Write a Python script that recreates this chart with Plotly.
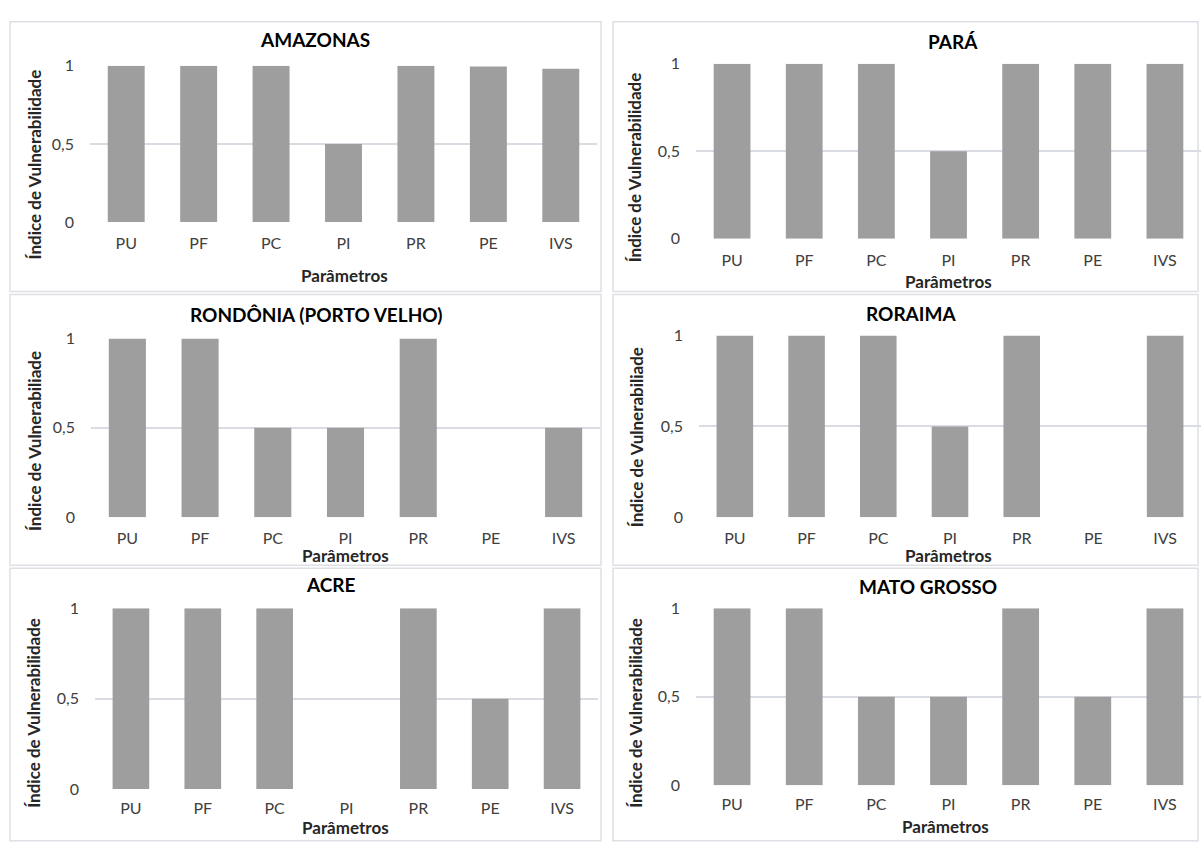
import plotly.graph_objects as go

categories = ["PU", "PF", "PC", "PI", "PR", "PE", "IVS"]

amazonas = [1, 1, 1, 0.5, 1, 0.995, 0.98]
para = [1, 1, 1, 0.5, 1, 1, 1]
rondonia = [1, 1, 0.5, 0.5, 1, 0, 0.5]
roraima = [1, 1, 1, 0.5, 1, 0, 1]
acre = [1, 1, 1, 0, 1, 0.5, 1]
mato_grosso = [1, 1, 0.5, 0.5, 1, 0.5, 1]

titles = ["AMAZONAS", "PARÁ", "RONDÔNIA (PORTO VELHO)", "RORAIMA", "ACRE", "MATO GROSSO"]
y_titles = ["Índice de Vulnerabilidade", "Índice de Vulnerabilidade",
            "Índice de Vulnerabiliade", "Índice de Vulnerabiliade",
            "Índice de Vulnerabilidade", "Índice de Vulnerabilidade"]
x_title = "Parâmetros"
y_tickvals = [0, 0.5, 1]
y_ticktext = ["0", "0,5", "1"]

series = [amazonas, para, rondonia, roraima, acre, mato_grosso]

W, H = 1203, 843
FONT = "Lato, Carlito, Calibri, sans-serif"
BAR = "#9e9e9e"
GRID = "#d9dce2"
TICK = "#404040"

def px_x(v):
    return v / W

def px_y(v):
    return 1 - v / H

# plot areas in pixels: (x0, x1, ytop, ybottom)
areas = [
    (90, 597, 57, 217),
    (696, 1201, 55, 234),
    (91, 600, 336, 519),
    (699, 1201, 333, 519),
    (95, 598, 612, 797),
    (696, 1201, 612, 793),
]
title_pos = [(315, 30), (953, 32), (316, 312), (911, 311), (331, 588), (928, 590)]
xtitle_pos = [(344, 272), (948, 278), (345, 558), (948, 558), (345, 836), (946, 835)]
ytitle_pos = [(34, 158), (634, 161), (34, 441), (636, 437), (34, 719), (636, 719)]
borders = [
    (10, 601, 12, 288), (613, 1198, 12, 288),
    (10, 601, 291, 568), (613, 1198, 291, 568),
    (10, 601, 571, 850), (613, 1198, 571, 850),
]

fig = go.Figure()
annotations = []
shapes = []
for i, vals in enumerate(series):
    n = "" if i == 0 else str(i + 1)
    fig.add_trace(go.Bar(
        x=categories, y=vals, xaxis="x" + n, yaxis="y" + n,
        marker=dict(color=BAR, line=dict(width=0)),
        width=0.51, showlegend=False, hoverinfo="x+y",
    ))
    x0, x1, yt, yb = areas[i]
    fig.update_layout(**{
        "xaxis" + n: dict(
            domain=[px_x(x0), px_x(x1)], anchor="y" + n,
            showgrid=False, showline=False, zeroline=False, ticks="",
            tickfont=dict(family=FONT, size=16, color=TICK),
            ticklabelstandoff=10 if i < 4 else 8, fixedrange=True,
        ),
        "yaxis" + n: dict(
            domain=[px_y(yb), px_y(yt)], anchor="x" + n,
            range=[0, 1], tickvals=y_tickvals, ticktext=y_ticktext,
            showgrid=True, gridcolor=GRID, gridwidth=1.5, zeroline=False,
            showline=False, ticks="",
            tickfont=dict(family=FONT, size=16, color=TICK),
            ticklabelstandoff=15, fixedrange=True,
        ),
    })
    tx, ty = title_pos[i]
    annotations.append(dict(text="<b>" + titles[i] + "</b>", x=px_x(tx), y=px_y(ty),
                            xref="paper", yref="paper", showarrow=False,
                            xanchor="center", yanchor="middle",
                            font=dict(family=FONT, size=19, color="#000000")))
    tx, ty = xtitle_pos[i]
    annotations.append(dict(text="<b>" + x_title + "</b>", x=px_x(tx), y=px_y(ty),
                            xref="paper", yref="paper", showarrow=False,
                            xanchor="center", yanchor="middle",
                            font=dict(family=FONT, size=17, color="#262626")))
    tx, ty = ytitle_pos[i]
    annotations.append(dict(text="<b>" + y_titles[i] + "</b>", x=px_x(tx), y=px_y(ty),
                            xref="paper", yref="paper", showarrow=False, textangle=-90,
                            xanchor="center", yanchor="middle",
                            font=dict(family=FONT, size=17, color="#262626")))
    bx0, bx1, by0, by1 = borders[i]
    shapes.append(dict(type="rect", xref="paper", yref="paper",
                       x0=px_x(bx0), x1=px_x(bx1), y0=px_y(by1), y1=px_y(by0),
                       line=dict(color="#dde0e5", width=1.5), layer="below"))

fig.update_layout(
    width=W, height=H, margin=dict(l=0, r=0, t=0, b=0),
    paper_bgcolor="white", plot_bgcolor="white",
    bargap=0.49, annotations=annotations, shapes=shapes,
    font=dict(family=FONT),
)
fig.write_html("out.html", config={"displayModeBar": False},
               post_script="document.body.style.margin='0';document.body.style.overflow='hidden';")
